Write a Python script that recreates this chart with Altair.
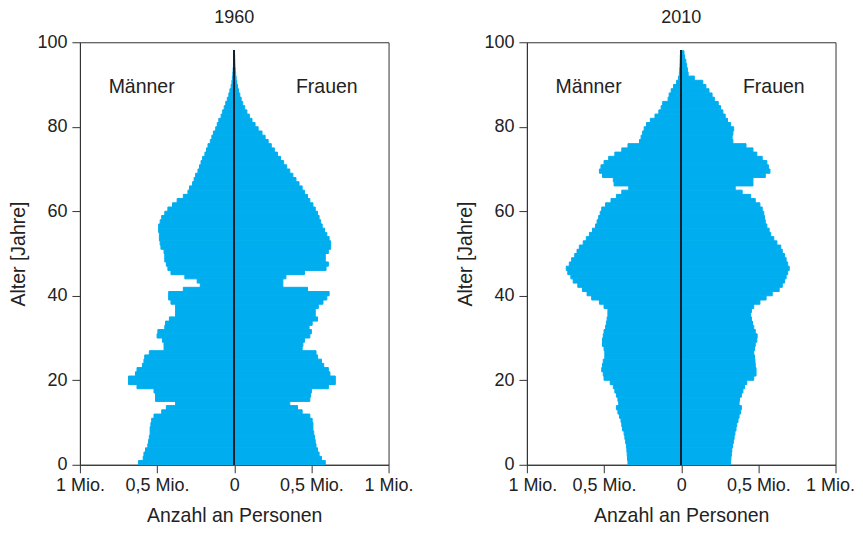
import altair as alt
import pandas as pd

ages = list(range(98))

men_1960 = [0.62, 0.59, 0.585, 0.575, 0.56, 0.555, 0.55, 0.545, 0.545, 0.54,
            0.535, 0.52, 0.47, 0.44, 0.38, 0.51, 0.51, 0.52, 0.63, 0.685,
            0.685, 0.64, 0.63, 0.595, 0.585, 0.58, 0.55, 0.455, 0.455, 0.465,
            0.5, 0.495, 0.45, 0.445, 0.42, 0.38, 0.38, 0.38, 0.41, 0.425,
            0.425, 0.33, 0.22, 0.24, 0.32, 0.41, 0.43, 0.44, 0.45, 0.45,
            0.455, 0.475, 0.48, 0.485, 0.485, 0.49, 0.49, 0.48, 0.47, 0.45,
            0.43, 0.40, 0.37, 0.33, 0.30, 0.29, 0.27, 0.26, 0.25, 0.235,
            0.225, 0.215, 0.205, 0.19, 0.18, 0.17, 0.155, 0.145, 0.135, 0.12,
            0.11, 0.10, 0.085, 0.075, 0.065, 0.055, 0.045, 0.035, 0.028, 0.02,
            0.015, 0.012, 0.009, 0.007, 0.005, 0.004, 0.003, 0.002]

women_1960 = [0.59, 0.565, 0.55, 0.54, 0.53, 0.525, 0.52, 0.515, 0.51, 0.51,
              0.505, 0.49, 0.44, 0.41, 0.36, 0.49, 0.495, 0.50, 0.61, 0.655,
              0.655, 0.62, 0.61, 0.58, 0.565, 0.54, 0.53, 0.44, 0.445, 0.455,
              0.49, 0.50, 0.485, 0.505, 0.54, 0.525, 0.525, 0.545, 0.575, 0.60,
              0.615, 0.475, 0.315, 0.315, 0.335, 0.455, 0.595, 0.61, 0.59, 0.59,
              0.61, 0.625, 0.625, 0.615, 0.60, 0.585, 0.57, 0.56, 0.55, 0.54,
              0.525, 0.51, 0.49, 0.475, 0.455, 0.44, 0.42, 0.40, 0.38, 0.36,
              0.34, 0.32, 0.30, 0.28, 0.26, 0.24, 0.22, 0.20, 0.18, 0.155,
              0.135, 0.115, 0.098, 0.082, 0.068, 0.055, 0.045, 0.036, 0.028, 0.021,
              0.016, 0.012, 0.009, 0.007, 0.005, 0.004, 0.003, 0.002]

men_2010 = [0.345, 0.348, 0.35, 0.352, 0.355, 0.36, 0.365, 0.37, 0.38, 0.385,
            0.39, 0.40, 0.41, 0.42, 0.405, 0.41, 0.42, 0.43, 0.44, 0.46,
            0.50, 0.505, 0.515, 0.51, 0.505, 0.495, 0.495, 0.50, 0.51, 0.51,
            0.505, 0.50, 0.49, 0.485, 0.48, 0.475, 0.475, 0.50, 0.53, 0.58,
            0.61, 0.64, 0.67, 0.70, 0.715, 0.735, 0.745, 0.725, 0.71, 0.69,
            0.675, 0.66, 0.635, 0.615, 0.595, 0.575, 0.555, 0.545, 0.535, 0.525,
            0.515, 0.49, 0.455, 0.42, 0.385, 0.34, 0.435, 0.44, 0.51, 0.53,
            0.52, 0.50, 0.47, 0.43, 0.385, 0.345, 0.27, 0.26, 0.25, 0.24,
            0.225, 0.20, 0.17, 0.145, 0.13, 0.12, 0.085, 0.078, 0.065, 0.05,
            0.03, 0.018, 0.012, 0.01, 0.008, 0.007, 0.006, 0.005]

women_2010 = [0.32, 0.322, 0.325, 0.328, 0.332, 0.338, 0.343, 0.348, 0.355, 0.36,
              0.368, 0.375, 0.385, 0.39, 0.375, 0.378, 0.39, 0.40, 0.41, 0.425,
              0.47, 0.485, 0.485, 0.48, 0.478, 0.475, 0.47, 0.475, 0.48, 0.49,
              0.492, 0.48, 0.47, 0.462, 0.455, 0.45, 0.455, 0.47, 0.51, 0.55,
              0.59, 0.635, 0.655, 0.67, 0.68, 0.69, 0.70, 0.69, 0.68, 0.67,
              0.655, 0.645, 0.62, 0.60, 0.58, 0.57, 0.555, 0.545, 0.54, 0.535,
              0.525, 0.51, 0.48, 0.45, 0.395, 0.35, 0.465, 0.465, 0.545, 0.575,
              0.565, 0.555, 0.525, 0.49, 0.465, 0.42, 0.335, 0.33, 0.335, 0.34,
              0.32, 0.30, 0.285, 0.27, 0.255, 0.24, 0.215, 0.20, 0.18, 0.16,
              0.14, 0.085, 0.045, 0.04, 0.035, 0.03, 0.022, 0.018]

years = ["1960", "2010"]
sex_labels = ["Männer", "Frauen"]
x_tick_values = [-1, -0.5, 0, 0.5, 1]
x_tick_labels = ["1 Mio.", "0,5 Mio.", "0", "0,5 Mio.", "1 Mio."]
y_tick_values = [0, 20, 40, 60, 80, 100]

FONT = "Liberation Sans"
FS = 18
FS_TITLE = 19.5
BLUE = "#00AEEF"
TEXT = "#222222"

label_expr = ""
for v, t in zip(x_tick_values, x_tick_labels):
    label_expr += f"datum.value == {v} ? '{t}' : "
label_expr += "''"

series = {"1960": (men_1960, women_1960), "2010": (men_2010, women_2010)}


def panel(year, last):
    men, women = series[year]
    rows = []
    for a, m, w in zip(ages, men, women):
        rows.append({"age": a, "age_end": a + 1, "value": -m, "zero": 0, "sex": "Männer"})
        rows.append({"age": a, "age_end": a + 1, "value": w, "zero": 0, "sex": "Frauen"})
    df = pd.DataFrame(rows)

    xscale = alt.Scale(domain=[-1, 1], nice=False, zero=False)
    yscale = alt.Scale(domain=[0, 100], nice=False)

    if last:
        xaxis = alt.Axis(values=x_tick_values, labelExpr=label_expr,
                         title="Anzahl an Personen", labelFlush=True,
                         labelFlushOffset=19, grid=False)
    else:
        xaxis = alt.Axis(values=x_tick_values, labelExpr=label_expr,
                         title="Anzahl an Personen", labelFlush=False, grid=False)

    bars = alt.Chart(df).mark_rect(color=BLUE, stroke=BLUE, strokeWidth=1).encode(
        x=alt.X("value:Q", scale=xscale, axis=xaxis),
        x2="zero:Q",
        y=alt.Y("age:Q", scale=yscale,
                axis=alt.Axis(values=y_tick_values, title="Alter [Jahre]", grid=False)),
        y2="age_end:Q",
    )

    rule = alt.Chart(df).mark_rule(color="#14222e", strokeWidth=1.4).encode(
        x=alt.datum(0), y=alt.datum(0), y2=alt.datum(98)
    )

    lab_df = pd.DataFrame({"label": sex_labels, "xpos": [-0.6, 0.6], "ypos": [89.5, 89.5]})
    labels = alt.Chart(lab_df).mark_text(font=FONT, fontSize=FS_TITLE, color=TEXT).encode(
        x=alt.X("xpos:Q", scale=xscale),
        y=alt.Y("ypos:Q", scale=yscale),
        text="label:N",
    )

    return alt.layer(bars, rule, labels).properties(
        width=309, height=423,
        title=alt.TitleParams(year, anchor="middle", fontSize=FS, font=FONT,
                              fontWeight="normal", color=TEXT, offset=6),
    )


chart = alt.hconcat(panel("1960", False), panel("2010", True), spacing=40.5).properties(
    padding=0
).configure_view(
    stroke="#333", strokeWidth=1
).configure_axis(
    labelFont=FONT, titleFont=FONT, labelFontSize=FS, titleFontSize=FS_TITLE,
    titleFontWeight="normal", labelColor=TEXT, titleColor=TEXT,
    domainColor="#333", tickColor="#333", tickSize=8, domainWidth=1, tickWidth=1,
).configure_axisY(labelPadding=5, titlePadding=8).configure_axisX(
    labelPadding=4, titlePadding=12
)

chart.save("out.html", embed_options={"renderer": "svg", "actions": False})
